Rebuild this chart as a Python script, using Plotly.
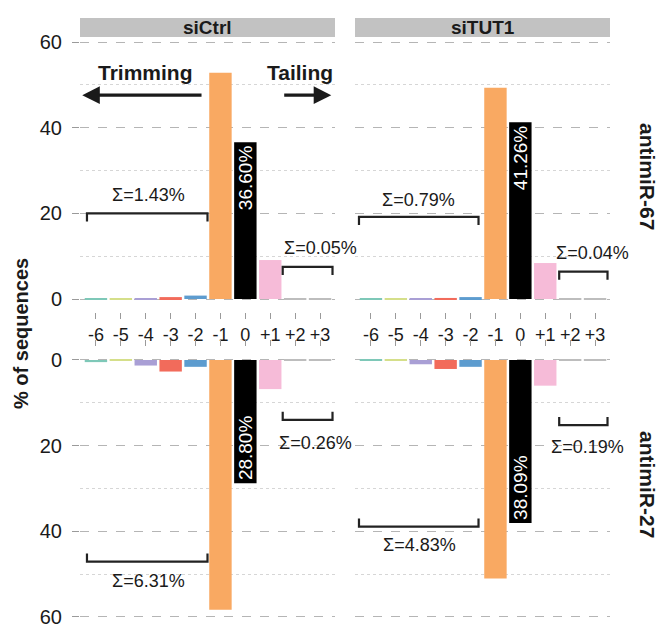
import plotly.graph_objects as go

categories = ["-6", "-5", "-4", "-3", "-2", "-1", "0", "+1", "+2", "+3"]
colors = ["#7ec8b8", "#d5df8a", "#a99fd5", "#f26b5b", "#5d9ccf", "#f9a962",
          "#000000", "#f6bbd8", "#bdbdbd", "#bdbdbd"]

conditions = ["siCtrl", "siTUT1"]
mirnas = ["antimiR-67", "antimiR-27"]

ctrl_67 = [0.04, 0.04, 0.10, 0.45, 0.80, 52.8, 36.60, 9.1, 0.03, 0.02]
tut1_67 = [0.02, 0.02, 0.05, 0.25, 0.45, 49.3, 41.26, 8.4, 0.02, 0.02]
ctrl_27 = [0.50, 0.20, 1.30, 2.70, 1.60, 58.3, 28.80, 6.8, 0.15, 0.11]
tut1_27 = [0.08, 0.05, 1.00, 2.10, 1.60, 51.0, 38.09, 6.0, 0.10, 0.09]

trim_sums = {"ctrl_67": "Σ=1.43%", "tut1_67": "Σ=0.79%", "ctrl_27": "Σ=6.31%", "tut1_27": "Σ=4.83%"}
tail_sums = {"ctrl_67": "Σ=0.05%", "tut1_67": "Σ=0.04%", "ctrl_27": "Σ=0.26%", "tut1_27": "Σ=0.19%"}

# page body has an 8px default margin; size the figure so it fits the window
OFF = 8
W, H = 664 - OFF, 624 - OFF
FONT = "Liberation Sans, Arial, sans-serif"

def px_x(p):
    return (p - OFF) / W

def px_y(p):
    return 1 - (p - OFF) / H

xdom = {"L": [px_x(80), px_x(335)], "R": [px_x(355), px_x(610)]}
ydom = {"T": [px_y(312), px_y(40)], "B": [px_y(621), px_y(347)]}

panels = [
    ("", "L", "T", ctrl_67, "ctrl_67", True),
    ("2", "R", "T", tut1_67, "tut1_67", True),
    ("3", "L", "B", ctrl_27, "ctrl_27", False),
    ("4", "R", "B", tut1_27, "tut1_27", False),
]

fig = go.Figure()
layout = dict(
    width=W, height=H, margin=dict(l=0, r=0, t=0, b=0, pad=0),
    paper_bgcolor="white", plot_bgcolor="white",
    showlegend=False, font=dict(family=FONT, color="#1a1a1a"),
    bargap=0.1,
)

annotations = []
shapes = []

for suf, xd, yd, vals, key, top in panels:
    xa = "x" + suf
    ya = "y" + suf
    fig.add_trace(go.Bar(
        x=categories, y=vals, xaxis=xa, yaxis=ya,
        marker=dict(color=colors, line=dict(width=0)),
        width=0.9, cliponaxis=False,
    ))
    # percentage label inside the black (0) bar, reading bottom-to-top near bar end
    i0 = categories.index("0")
    annotations.append(dict(
        x=i0, y=vals[i0] - 8.3, xref=xa, yref=ya,
        text="%.2f%%" % vals[i0], showarrow=False, textangle=-90,
        font=dict(size=19, color="white", family=FONT),
        xanchor="center", yanchor="middle",
    ))
    left = xd == "L"
    layout["xaxis" + suf] = dict(
        domain=xdom[xd], anchor=ya, range=[-0.64, 9.6], type="category",
        categoryorder="array", categoryarray=categories,
        showgrid=False, zeroline=False, showline=False, automargin=False,
        ticks="outside", ticklen=6, tickwidth=1.2, tickcolor="#9a9a9a",
        showticklabels=top, side="bottom" if top else "top",
        tickfont=dict(size=18, color="#1a1a1a"),
    )
    layout["yaxis" + suf] = dict(
        domain=ydom[yd], anchor=xa, automargin=False,
        range=[-3.03, 60.47] if top else [60.95, -3.03],
        tickvals=[0, 20, 40, 60], showticklabels=left,
        ticks="outside" if left else "", ticklen=7, tickwidth=1.2, tickcolor="#9a9a9a",
        tickfont=dict(size=20, color="#1a1a1a"), ticklabelstandoff=6,
        ticklabeloverflow="allow",
        showgrid=True, gridcolor="#b5b5b5", gridwidth=1.2, griddash="dash",
        minor=dict(tickvals=[10, 30, 50], showgrid=True, gridcolor="#d6d6d6",
                   gridwidth=1, griddash="dot"),
        zeroline=False, showline=False,
    )

# brackets: (axis suffix, x0, x1, y, text, tx, ty)
brackets = [
    ("", -0.36, 4.48, 20.0, trim_sums["ctrl_67"], 2.1, 24.3),
    ("", 7.5, 9.5, 7.5, tail_sums["ctrl_67"], 9.0, 11.9),
    ("2", -0.48, 4.32, 19.2, trim_sums["tut1_67"], 1.9, 23.2),
    ("2", 7.56, 9.5, 6.4, tail_sums["tut1_67"], 8.9, 10.8),
    ("3", -0.36, 4.48, 47.1, trim_sums["ctrl_27"], 2.1, 51.7),
    ("3", 7.5, 9.5, 14.0, tail_sums["ctrl_27"], 8.8, 19.4),
    ("4", -0.48, 4.32, 38.9, trim_sums["tut1_27"], 1.96, 43.1),
    ("4", 7.56, 9.5, 15.2, tail_sums["tut1_27"], 8.7, 20.3),
]
for suf, x0, x1, yv, txt, tx, ty in brackets:
    tick = 1.9
    shapes.append(dict(
        type="path", xref="x" + suf, yref="y" + suf,
        path=f"M {x0},{yv - tick} L {x0},{yv} L {x1},{yv} L {x1},{yv - tick}",
        line=dict(color="#222222", width=2.2),
    ))
    annotations.append(dict(
        x=tx, y=ty, xref="x" + suf, yref="y" + suf, text=txt, showarrow=False,
        font=dict(size=18, color="#1a1a1a"), xanchor="center", yanchor="middle",
    ))

# Trimming / Tailing labels and arrows (top-left panel)
annotations += [
    dict(x=2.0, y=53.0, xref="x", yref="y", text="<b>Trimming</b>", showarrow=False,
         font=dict(size=21, color="#1a1a1a")),
    dict(x=8.2, y=53.0, xref="x", yref="y", text="<b>Tailing</b>", showarrow=False,
         font=dict(size=21, color="#1a1a1a")),
    dict(x=-0.55, y=47.6, ax=4.3, ay=47.6, xref="x", yref="y", axref="x", ayref="y",
         text="", showarrow=True, arrowhead=2, arrowsize=1.1, arrowwidth=3.2,
         arrowcolor="#1a1a1a"),
    dict(x=9.45, y=47.6, ax=7.5, ay=47.6, xref="x", yref="y", axref="x", ayref="y",
         text="", showarrow=True, arrowhead=2, arrowsize=1.1, arrowwidth=3.2,
         arrowcolor="#1a1a1a"),
]

# facet strips on top
for cond, xd in zip(conditions, ["L", "R"]):
    shapes.append(dict(type="rect", xref="paper", yref="paper",
                       x0=xdom[xd][0], x1=xdom[xd][1], y0=px_y(37), y1=px_y(18),
                       fillcolor="#c2c2c2", line=dict(width=0), layer="below"))
    annotations.append(dict(x=(xdom[xd][0] + xdom[xd][1]) / 2, y=px_y(27.5),
                            xref="paper", yref="paper", text="<b>%s</b>" % cond,
                            showarrow=False, font=dict(size=19, color="#1a1a1a"),
                            xanchor="center", yanchor="middle"))

# right-side row labels
for mi, yd in zip(mirnas, ["T", "B"]):
    annotations.append(dict(x=px_x(648), y=(ydom[yd][0] + ydom[yd][1]) / 2,
                            xref="paper", yref="paper", text="<b>%s</b>" % mi,
                            showarrow=False, textangle=90,
                            font=dict(size=21, color="#1a1a1a"),
                            xanchor="center", yanchor="middle"))

# y-axis title
annotations.append(dict(x=px_x(21), y=px_y(334), xref="paper", yref="paper",
                        text="<b>% of sequences</b>", showarrow=False, textangle=-90,
                        font=dict(size=20, color="#1a1a1a"),
                        xanchor="center", yanchor="middle"))

layout["annotations"] = annotations
layout["shapes"] = shapes
fig.update_layout(**layout)

fig.write_html("out.html")
